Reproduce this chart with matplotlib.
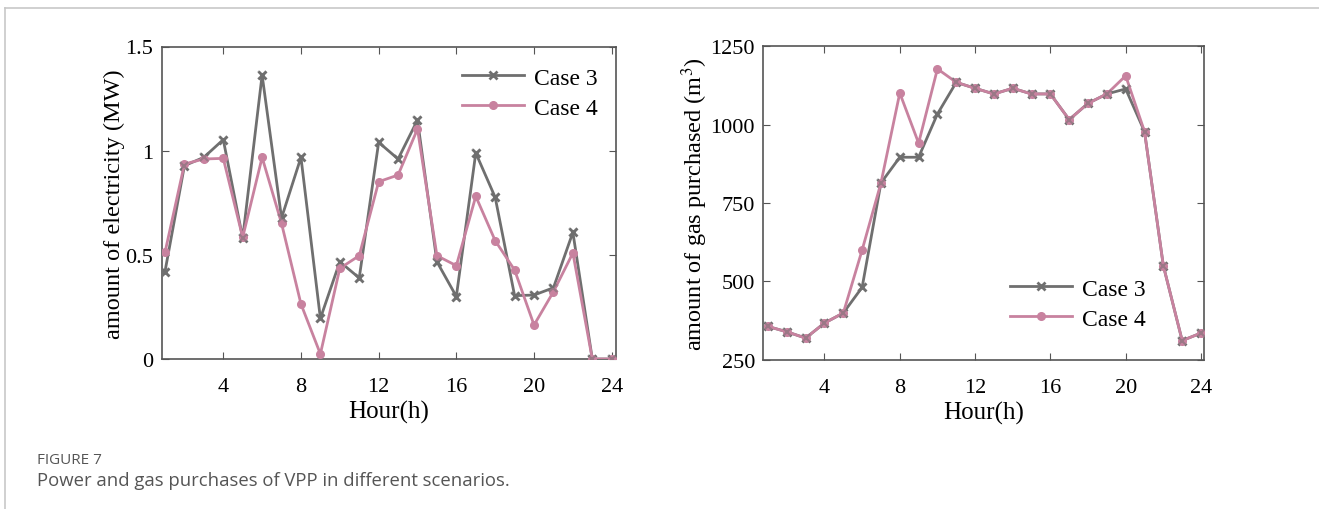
import matplotlib
matplotlib.use("Agg")
import matplotlib.pyplot as plt
from matplotlib.lines import Line2D

hours = list(range(1, 25))
elec_case3 = [0.42, 0.928, 0.968, 1.053, 0.58, 1.363, 0.677, 0.968, 0.195, 0.467, 0.389, 1.04,
              0.96, 1.147, 0.467, 0.30, 0.989, 0.776, 0.304, 0.307, 0.342, 0.608, 0.0, 0.0]
elec_case4 = [0.512, 0.936, 0.96, 0.963, 0.584, 0.968, 0.651, 0.264, 0.024, 0.435, 0.496, 0.851,
              0.883, 1.104, 0.496, 0.448, 0.781, 0.568, 0.427, 0.163, 0.323, 0.509, 0.0, 0.0]
gas_case3 = [356, 339, 319, 367, 399, 481, 814, 896, 896, 1034, 1135, 1116,
             1098, 1116, 1098, 1098, 1016, 1068, 1098, 1114, 978, 550, 311, 335]
gas_case4 = [356, 339, 319, 367, 399, 600, 814, 1101, 941, 1178, 1135, 1116,
             1098, 1116, 1098, 1098, 1016, 1068, 1098, 1156, 978, 550, 311, 335]
series_labels = ["Case 3", "Case 4"]
xticks = [4, 8, 12, 16, 20, 24]
elec_yticks = [0, 0.5, 1, 1.5]
elec_yticklabels = ["0", "0.5", "1", "1.5"]
gas_yticks = [250, 500, 750, 1000, 1250]

gray = "#6f6f6f"
pink = "#c8829f"
spine = "#555555"

plt.rcParams["font.family"] = ["Liberation Serif", "DejaVu Serif"]
plt.rcParams["mathtext.fontset"] = "stix"

fig = plt.figure(figsize=(13.19, 5.10), dpi=100)
W, H = 1319, 510

# frame lines
fig.add_artist(Line2D([5 / W, 1], [1 - 9 / H, 1 - 9 / H], color="#c8c8c8", lw=1.2))
fig.add_artist(Line2D([5 / W, 5 / W], [0, 1 - 9 / H], color="#c8c8c8", lw=1.2))

def make_ax(rect, y3, y4, xlim, ylim, yticks, yticklabels, ylabel, leg_anchor):
    ax = fig.add_axes(rect)
    ax.plot(hours, y3, color=gray, lw=2.0, marker="x", ms=6, mew=2.0, label=series_labels[0], zorder=3)
    ax.plot(hours, y4, color=pink, lw=2.0, marker="o", ms=5.5, label=series_labels[1], zorder=4)
    ax.plot(hours, y3, color=gray, lw=0, marker="x", ms=6, mew=1.5, alpha=0.5, zorder=5)
    ax.set_xlim(*xlim)
    ax.set_ylim(*ylim)
    ax.set_xticks(xticks)
    ax.set_yticks(yticks)
    ax.set_yticklabels(yticklabels)
    ax.tick_params(direction="in", top=True, right=True, labelsize=16, length=5, color=spine)
    ax.tick_params(axis="x", pad=13)
    ax.tick_params(axis="y", pad=6)
    for s in ax.spines.values():
        s.set_color(spine)
        s.set_linewidth(1.2)
    ax.set_xlabel("Hour(h)", fontsize=18, labelpad=3)
    ax.set_ylabel(ylabel, fontsize=17.5, labelpad=0)
    ax.legend(loc="upper right", bbox_to_anchor=(leg_anchor[0] / W, 1 - leg_anchor[1] / H),
              bbox_transform=fig.transFigure, frameon=False, fontsize=17,
              handlelength=2.6, handletextpad=0.45, borderpad=0, borderaxespad=0,
              labelspacing=0.36)
    return ax

ax1 = make_ax([161.7 / W, 1 - 360 / H, (616 - 161.7) / W, (360 - 47.5) / H],
              elec_case3, elec_case4, (0.83, 24.22), (0, 1.5), elec_yticks, elec_yticklabels,
              "amount of electricity (MW)", (598, 68))
ax2 = make_ax([763.3 / W, 1 - 360.7 / H, (1204 - 763.3) / W, (360.7 - 47.3) / H],
              gas_case3, gas_case4, (0.75, 24.16), (250, 1250), gas_yticks,
              [str(v) for v in gas_yticks], "amount of gas purchased (m$^3$)", (1146, 279))

fig.text(37 / W, 1 - 461 / H, "FIGURE 7", fontsize=11, color="#555555",
         family=["Open Sans", "DejaVu Sans"], va="center")
fig.text(37 / W, 1 - 481 / H, "Power and gas purchases of VPP in different scenarios.",
         fontsize=13.3, color="#555555", family=["Open Sans", "DejaVu Sans"], va="center")

fig.savefig("out.png", dpi=100)
